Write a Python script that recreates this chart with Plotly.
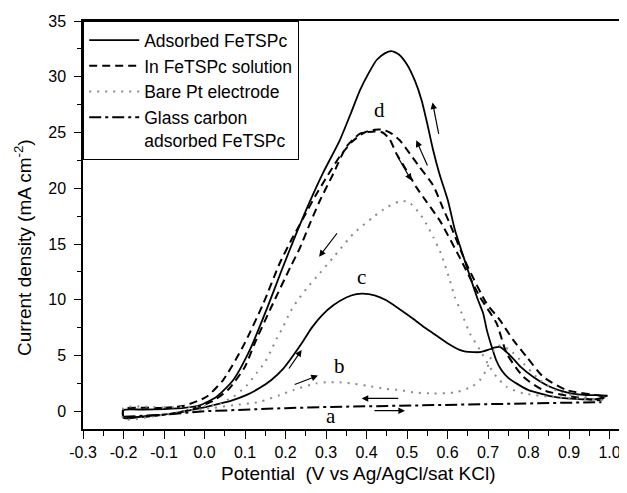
import plotly.graph_objects as go

# ---------------- data ----------------
# Adsorbed FeTSPc (solid) : anodic branch with big peak, return branch with peak "c"
ads_up_v = [-0.2, -0.15, -0.1, -0.05, -0.012, 0.03, 0.071, 0.112, 0.153, 0.19, 0.225, 0.26, 0.293,
            0.334, 0.36, 0.384, 0.405, 0.425, 0.445, 0.462, 0.48, 0.50, 0.52, 0.536, 0.55, 0.564, 0.58,
            0.601, 0.618, 0.64, 0.659, 0.675, 0.688, 0.697, 0.709, 0.72, 0.733, 0.75, 0.77, 0.80, 0.828,
            0.853, 0.894, 0.935, 0.97, 0.995]
ads_up_j = [0.1, 0.15, 0.2, 0.3, 0.54, 1.3, 2.8, 5.5, 9.1, 12.6, 15.8, 18.8, 21.4,
            24.3, 26.6, 28.8, 30.3, 31.5, 32.1, 32.3, 32.0, 31.1, 29.6, 27.9, 25.8, 23.5, 21.3,
            18.9, 16.3, 13.8, 11.7, 10.0, 8.8, 7.3, 5.8, 4.6, 3.7, 3.0, 2.5, 1.9, 1.6,
            1.35, 1.15, 1.07, 1.1, 1.4]
ads_dn_v = [0.995, 0.97, 0.943, 0.894, 0.853, 0.811, 0.78, 0.755, 0.74, 0.729, 0.715, 0.70, 0.68, 0.663,
            0.645, 0.63, 0.60, 0.564, 0.54, 0.515, 0.48, 0.449, 0.42, 0.39, 0.375, 0.35, 0.318, 0.29,
            0.265, 0.24, 0.215, 0.194, 0.165, 0.137, 0.10, 0.07, 0.04, 0.005, -0.05, -0.1, -0.15,
            -0.2, -0.2]
ads_dn_j = [1.4, 1.45, 1.45, 1.7, 2.2, 3.1, 4.0, 5.0, 5.5, 5.77, 5.7, 5.5, 5.3, 5.3,
            5.35, 5.5, 6.1, 7.0, 7.6, 8.3, 9.2, 9.95, 10.4, 10.55, 10.5, 10.2, 9.5, 8.6,
            7.5, 6.1, 4.8, 3.8, 2.8, 2.1, 1.4, 1.0, 0.7, 0.4, 0.0, -0.3, -0.45,
            -0.6, 0.1]

# In FeTSPc solution (dashed) : peak "d"
sol_up_v = [-0.2, -0.1, -0.05, 0.005, 0.046, 0.095, 0.145, 0.186, 0.215, 0.245, 0.275, 0.305, 0.335,
            0.365, 0.395, 0.42, 0.44, 0.46, 0.482, 0.507, 0.531, 0.564, 0.589, 0.606, 0.647, 0.696,
            0.729, 0.762, 0.795, 0.836, 0.894, 0.976, 0.99]
sol_up_j = [0.2, 0.3, 0.5, 1.3, 2.8, 5.8, 9.65, 13.3, 15.4, 17.4, 19.4, 21.2, 22.9,
            24.2, 25.0, 25.25, 25.25, 24.95, 24.3, 23.1, 21.9, 20.3, 18.2, 16.8, 13.2, 9.7,
            8.2, 6.4, 4.9, 3.1, 1.9, 1.4, 1.3]
sol_dn_v = [0.99, 0.976, 0.91, 0.836, 0.787, 0.746, 0.721, 0.68, 0.63, 0.581, 0.548, 0.523, 0.499,
            0.474, 0.457, 0.44, 0.42, 0.384, 0.35, 0.318, 0.285, 0.26, 0.235, 0.213, 0.165, 0.124,
            0.10, 0.06, 0.02, -0.05, -0.1, -0.2, -0.2]
sol_dn_j = [1.3, 1.0, 1.3, 1.9, 3.1, 5.2, 7.9, 10.25, 13.8, 17.1, 18.8, 20.1, 21.6,
            23.1, 24.4, 25.0, 25.1, 24.9, 23.7, 21.3, 18.9, 16.8, 14.6, 13.0, 9.35, 6.1,
            4.0, 2.0, 0.9, 0.0, -0.3, -0.5, 0.2]

# Bare Pt electrode (dotted grey) : big hump and small peak "b"
pt_up_v = [-0.2, -0.1, 0.0, 0.038, 0.071, 0.104, 0.128, 0.149, 0.165, 0.178, 0.194, 0.21, 0.227, 0.252,
           0.285, 0.318, 0.367, 0.416, 0.45, 0.48, 0.503, 0.532, 0.548, 0.565, 0.581, 0.593, 0.606,
           0.618, 0.635, 0.655, 0.68, 0.704, 0.721, 0.746, 0.787, 0.854, 0.935, 0.99]
pt_up_j = [0.3, 0.35, 0.45, 0.7, 1.3, 2.3, 3.4, 4.4, 5.5, 6.5, 7.56, 8.8, 9.8, 11.0,
           12.4, 13.8, 15.9, 17.4, 18.3, 18.8, 18.8, 17.7, 16.8, 15.6, 14.4, 13.2, 11.7,
           10.25, 8.8, 7.0, 5.5, 4.0, 3.1, 2.2, 1.6, 1.3, 1.1, 1.0]
pt_dn_v = [0.99, 0.976, 0.935, 0.877, 0.828, 0.787, 0.754, 0.729, 0.715, 0.705, 0.696, 0.68, 0.66,
           0.62, 0.565, 0.515, 0.482, 0.449, 0.40, 0.36, 0.334, 0.30, 0.276, 0.219, 0.186, 0.137,
           0.071, 0.021, -0.05, -0.1, -0.2, -0.2]
pt_dn_j = [1.0, 1.0, 1.3, 1.7, 2.8, 4.3, 5.5, 5.9, 5.5, 4.6, 3.7, 2.8, 2.2,
           1.7, 1.6, 1.7, 1.9, 2.0, 2.3, 2.5, 2.6, 2.6, 2.5, 1.9, 1.45, 0.85,
           0.54, 0.3, 0.0, -0.3, -0.7, 0.3]

# Glass carbon adsorbed FeTSPc (dash-dot) : curve "a"
gc_v = [-0.2, -0.1, 0.0, 0.1, 0.2, 0.3, 0.4, 0.5, 0.6, 0.7, 0.8, 0.9, 0.98]
gc_j = [-0.5, -0.3, 0.0, 0.15, 0.28, 0.38, 0.45, 0.5, 0.55, 0.62, 0.7, 0.76, 0.82]

series_names = ["Adsorbed FeTSPc", "In FeTSPc solution", "Bare Pt electrode",
                "Glass carbon<br>adsorbed FeTSPc"]

x_ticks = [-0.3, -0.2, -0.1, 0.0, 0.1, 0.2, 0.3, 0.4, 0.5, 0.6, 0.7, 0.8, 0.9, 1.0]
x_tick_text = ["-0.3", "-0.2", "-0.1", "0.0", "0.1", "0.2", "0.3", "0.4", "0.5", "0.6", "0.7",
               "0.8", "0.9", "1.0"]
y_ticks = [0, 5, 10, 15, 20, 25, 30, 35]

# curve labels and scan-direction arrows (tail -> head)
label_text = ["a", "b", "c", "d"]
label_v = [0.313, 0.334, 0.388, 0.433]
label_j = [-0.45, 4.1, 12.05, 27.0]
arrow_tail_v = [0.579, 0.552, 0.474, 0.330, 0.206, 0.219, 0.482, 0.416]
arrow_tail_j = [24.75, 21.9, 23.0, 16.1, 3.7, 2.35, 1.15, 0.05]
arrow_head_v = [0.563, 0.523, 0.511, 0.283, 0.240, 0.280, 0.388, 0.495]
arrow_head_j = [27.7, 24.3, 20.7, 13.85, 5.5, 3.2, 1.15, 0.05]

# ---------------- figure ----------------
FONT = "Liberation Sans, Arial, Helvetica, sans-serif"
fig = go.Figure()

fig.add_trace(go.Scatter(x=ads_up_v + ads_dn_v, y=ads_up_j + ads_dn_j, mode="lines",
                         name=series_names[0],
                         line=dict(color="black", width=1.8, shape="spline", smoothing=0.6)))
fig.add_trace(go.Scatter(x=sol_up_v + sol_dn_v, y=sol_up_j + sol_dn_j, mode="lines",
                         name=series_names[1],
                         line=dict(color="black", width=2, dash="8px,5px", shape="spline", smoothing=0.6)))
fig.add_trace(go.Scatter(x=pt_up_v + pt_dn_v, y=pt_up_j + pt_dn_j, mode="lines",
                         name=series_names[2],
                         line=dict(color="#8a8a8a", width=2, dash="2px,6px", shape="spline", smoothing=0.6)))
fig.add_trace(go.Scatter(x=gc_v, y=gc_j, mode="lines", name=series_names[3],
                         line=dict(color="black", width=2, dash="12px,4px,3px,4px")))

annotations = []
for t, v, j in zip(label_text, label_v, label_j):
    annotations.append(dict(x=v, y=j, xref="x", yref="y", text=t, showarrow=False,
                            font=dict(family="Liberation Serif, Times New Roman, serif", size=21,
                                      color="black")))
for tv, tj, hv, hj in zip(arrow_tail_v, arrow_tail_j, arrow_head_v, arrow_head_j):
    annotations.append(dict(x=hv, y=hj, ax=tv, ay=tj, xref="x", yref="y", axref="x", ayref="y",
                            text="", showarrow=True, arrowhead=2, arrowsize=1.1, arrowwidth=1.2,
                            arrowcolor="black"))
annotations.append(dict(x=-0.11, y=0.444, xref="paper", yref="paper", xanchor="center",
                        yanchor="middle",
                        text="Current density (mA cm<sup>-2</sup>)", textangle=-90, showarrow=False,
                        font=dict(family=FONT, size=19, color="black")))
annotations.append(dict(x=0.507, y=-0.11, xref="paper", yref="paper", xanchor="center",
                        yanchor="middle",
                        text="Potential  (V vs Ag/AgCl/sat KCl)", showarrow=False,
                        font=dict(family=FONT, size=19, color="black")))

# page body adds an 8 px offset, so the figure is 8 px smaller and the margins 8 px tighter
fig.update_layout(
    width=619, height=485,
    margin=dict(l=75, r=0, t=13, b=64, autoexpand=False),
    paper_bgcolor="white", plot_bgcolor="white",
    font=dict(family=FONT, size=16, color="black"),
    showlegend=True,
    legend=dict(x=0, y=1, xanchor="left", yanchor="top", bgcolor="white",
                bordercolor="black", borderwidth=1.2, font=dict(family=FONT, size=17.5),
                valign="top", itemwidth=50, tracegroupgap=0, entrywidth=205,
                entrywidthmode="pixels"),
    annotations=annotations,
)
fig.update_xaxes(range=[-0.3, 1.0432], showline=True, linecolor="black", linewidth=1.5,
                 mirror=True, ticks="outside", ticklen=8, tickwidth=1.3, tickcolor="black",
                 tickvals=x_ticks, ticktext=x_tick_text, showgrid=False, zeroline=False,
                 automargin=False,
                 minor=dict(tickvals=[v + 0.05 for v in x_ticks], ticks="outside", ticklen=5,
                            tickwidth=1.3, tickcolor="black"),
                 tickfont=dict(size=16))
fig.update_yaxes(range=[-1.59, 35], showline=True, linecolor="black", linewidth=1.5,
                 ticks="outside", ticklen=7, tickwidth=1.3, tickcolor="black",
                 tickvals=y_ticks, showgrid=False, zeroline=False, automargin=False,
                 ticklabelstandoff=5,
                 minor=dict(tickvals=[v + 2.5 for v in y_ticks], ticks="outside", ticklen=4,
                            tickwidth=1.3, tickcolor="black"),
                 tickfont=dict(size=16))

fig.write_html("out.html")
